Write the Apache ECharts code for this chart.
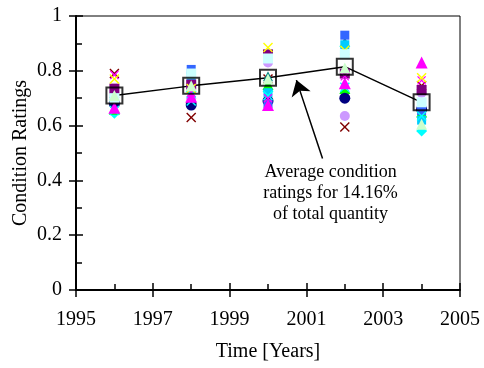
<!DOCTYPE html>
<html><head><meta charset="utf-8">
<script src="https://cdn.jsdelivr.net/npm/echarts@6/dist/echarts.min.js"></script>
<style>html,body{margin:0;padding:0;background:#fff}#c{width:484px;height:368px}</style>
</head><body><div id="c"></div>
<script>
var years = [1996, 1998, 2000, 2002, 2004];
var tickYears = ['1995','1996','1997','1998','1999','2000','2001','2002','2003','2004','2005'];
var average = [0.71, 0.745, 0.775, 0.815, 0.685];
var sNavyCircle   = [0.68, 0.675, 0.69, 0.70, 0.66];
var sMagentaTri   = [0.665, 0.705, 0.675, 0.755, 0.83];
var sYellowX      = [0.77, 0.735, 0.885, 0.875, 0.775];
var sCyanDiamond  = [0.645, 0.725, 0.725, 0.89, 0.58];
var sPurpleSquare = [0.735, 0.75, 0.86, 0.79, 0.73];
var sDarkRedX     = [0.79, 0.63, 0.77, 0.595, 0.745];
var sTealTri      = [0.72, 0.76, 0.78, 0.905, 0.67];
var sBlueSquare   = [0.70, 0.805, 0.68, 0.93, 0.655];
var sLtCyanSquare = [0.70, 0.79, 0.845, 0.86, 0.685];
var sLtGreenTri   = [0.71, 0.745, 0.77, 0.81, 0.605];
var sLtPurpleCirc = [0.69, 0.70, 0.83, 0.635, 0.72];
var sSkySquare    = [0.70, 0.78, 0.72, 0.895, 0.62];
var sGreenTri     = [0.66, 0.70, 0.75, 0.735, 0.65];
var sPinkX        = [0.785, 0.72, 0.70, 0.78, 0.765];
var sCyanX        = [0.655, 0.69, 0.71, 0.74, 0.635];
var annotationText = 'Average condition\nratings for 14.16%\nof total quantity';
var arrowFrom = [2001.42, 0.48];
var arrowTo = [2000.74, 0.766];
var textAt = [2001.63, 0.352];

var FONT = 'Liberation Serif';
var XPATH = 'path://M0,1L1,0L5,4L9,0L10,1L6,5L10,9L9,10L5,6L1,10L0,9L4,5Z';
function pts(arr){ return years.map(function(y,i){ return [y, arr[i]]; }); }
function sc(arr, color, symbol, size){
  return {type:'scatter', xAxisIndex:0, yAxisIndex:0, data:pts(arr), symbol:symbol,
    symbolSize:size, itemStyle:{color:color, opacity:1}, silent:true, z:3};
}
var series = [
  sc(sLtPurpleCirc,'#CC99FF','circle',10),
  sc(sCyanDiamond,'#00FFFF','diamond',11),
  sc(sGreenTri,'#00FF00','triangle',11),
  sc(sNavyCircle,'#000080','circle',11),
  sc(sDarkRedX,'#800000',XPATH,10),
  sc(sTealTri,'#008080','triangle',10),
  sc(sBlueSquare,'#3366FF','rect',9),
  sc(sSkySquare,'#00CCFF','rect',9),
  sc(sCyanX,'#00FFFF',XPATH,10),
  sc(sMagentaTri,'#FF00FF','triangle',12),
  sc(sPurpleSquare,'#800080','rect',10),
  sc(sPinkX,'#FF00FF',XPATH,9),
  sc(sYellowX,'#FFFF00',XPATH,10),
  sc(sLtCyanSquare,'#CCFFFF','rect',10),
  sc(sLtGreenTri,'#CCFFCC','triangle',11),
  {type:'line', xAxisIndex:0, yAxisIndex:0, data:pts(average), symbol:'none', silent:true, z:2,
    lineStyle:{color:'#000', width:1.5}},
  {type:'scatter', xAxisIndex:0, yAxisIndex:0, data:pts(average), symbol:'rect', symbolSize:16, silent:true, z:5,
    itemStyle:{color:'rgba(0,0,0,0)', borderColor:'#000', borderWidth:2}},
  {type:'scatter', xAxisIndex:0, yAxisIndex:0, data:[], silent:true, z:6,
    markLine:{silent:true, animation:false, symbol:['none','arrow'], symbolSize:15, symbolOffset:0,
      lineStyle:{color:'#000', width:1.5, type:'solid'}, itemStyle:{color:'#000'}, label:{show:false},
      data:[[{coord:arrowFrom},{coord:arrowTo}]]},
    markPoint:{silent:true, animation:false, symbol:'circle', symbolSize:0,
      data:[{coord:textAt}],
      label:{show:true, position:'inside', formatter:annotationText, fontFamily:FONT, fontSize:18,
        lineHeight:21, color:'#000', align:'center', verticalAlign:'middle'}}}
];
var labelStyle = {fontFamily:FONT, fontSize:20, color:'#000'};
function catAxis(extra){
  var a = {type:'category', data:tickYears, boundaryGap:false, gridIndex:0, position:'bottom',
    axisLine:{show:false}, splitLine:{show:false}, axisLabel:{show:false}};
  for (var k in extra) a[k] = extra[k];
  return a;
}
var option = {
  animation:false,
  grid:{left:76, right:24, top:16, bottom:78, show:true, borderColor:'#000', borderWidth:1, backgroundColor:'transparent'},
  xAxis:[
    {type:'value', min:1995, max:2005, position:'bottom', axisLine:{show:true, lineStyle:{color:'#000', width:2}},
      axisTick:{show:false}, axisLabel:{show:false}, splitLine:{show:false},
      name:'Time [Years]', nameLocation:'middle', nameGap:52, nameTextStyle:labelStyle},
    catAxis({axisTick:{show:true, inside:false, length:7, interval:1, lineStyle:{color:'#000', width:1.5}},
      axisLabel:{show:true, interval:1, margin:20, fontFamily:FONT, fontSize:20, color:'#000'}}),
    catAxis({axisTick:{show:true, inside:true, length:7, interval:1, lineStyle:{color:'#000', width:1.5}}}),
    catAxis({axisTick:{show:true, inside:true, length:6, interval:function(i){return i%2===1;}, lineStyle:{color:'#000', width:1.5}}})
  ],
  yAxis:[
    {type:'value', min:0, max:1, interval:0.2, position:'left',
      axisLine:{show:true, lineStyle:{color:'#000', width:2}},
      axisTick:{show:true, inside:false, length:7, lineStyle:{color:'#000', width:1.5}},
      axisLabel:{show:true, margin:14, fontFamily:FONT, fontSize:20, color:'#000'},
      splitLine:{show:false},
      name:'Condition Ratings', nameLocation:'middle', nameGap:45, nameMoveOverlap:false, nameTextStyle:labelStyle},
    {type:'value', min:0, max:1, interval:0.2, position:'left',
      axisLine:{show:false},
      axisTick:{show:true, inside:true, length:7, lineStyle:{color:'#000', width:1.5}},
      minorTick:{show:true, splitNumber:2, length:6, lineStyle:{color:'#000', width:1.5}},
      axisLabel:{show:false}, splitLine:{show:false}}
  ],
  series:series
};
var chart = echarts.init(document.getElementById('c'), null, {renderer:'canvas'});
chart.setOption(option);
</script></body></html>
